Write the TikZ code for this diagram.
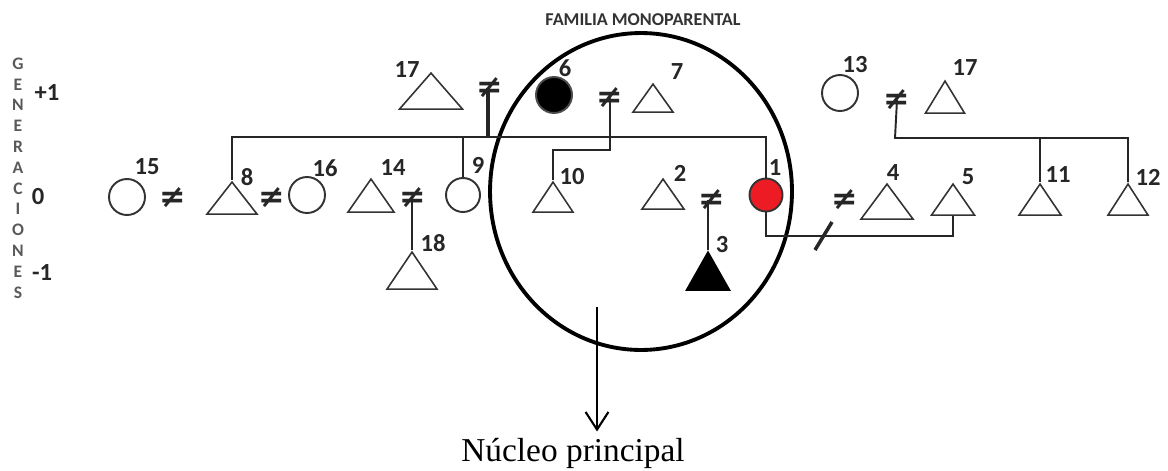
\documentclass[tikz,border=0pt]{standalone}
\usepackage{fontspec}
\setmainfont{Carlito}
\newfontfamily\serifnote{Liberation Serif}
\newfontfamily\symfont{DejaVu Sans}
\usepackage{tikz}
\usetikzlibrary{shapes.geometric, arrows.meta, positioning, calc}
\definecolor{paintred}{HTML}{ED1C24}
\tikzset{
  male/.style={isosceles triangle, isosceles triangle stretches, shape border rotate=90, anchor=apex, inner sep=0pt, draw=black!80, line width=0.9pt},
  female/.style={circle, minimum size=0.72cm, inner sep=0pt, draw=black!80, line width=1.1pt},
  num/.style={inner sep=0pt, font=\fontsize{14}{14}\selectfont\bfseries, text=black!85},
  neq/.style={inner sep=0pt, font=\symfont\fontsize{18}{18}\selectfont\bfseries, text=black!85},
  link/.style={line width=1.1pt, draw=black!85}
}

\begin{document}
\begin{tikzpicture}[x=0.02cm, y=-0.02cm]
\useasboundingbox (0,0) rectangle (1168,470);

% Generations
\node[inner sep=0pt, align=center, text=black!65, font=\fontsize{10}{11.85}\selectfont\bfseries] (gen) at (18,178) {G\\E\\N\\E\\R\\A\\C\\I\\O\\N\\E\\S};
\node[num] (gplus) at (47,93) {+1};
\node[num] (gzero) at (38,197) {0};
\node[num] (gminus) at (42,273) {-1};

% Nucleo principal
\node[ellipse, draw=black, line width=2.2pt, minimum width=6.04cm, minimum height=6.34cm] (mono) at (641,191.5) {};
\node[inner sep=0pt, text=black!80, font=\fontsize{10.3}{10.3}\selectfont\bfseries] (monotitle) at (643,20) {FAMILIA MONOPARENTAL};

% Generation +1
\node[male, minimum width=1.26cm, minimum height=0.72cm] (t17a) at (431,71) {};
\node[female, fill=black, draw=black!70] (c6) at (554,95) {};
\node[male, minimum width=0.8cm, minimum height=0.56cm] (t7) at (653,82) {};
\node[female] (c13) at (840,93) {};
\node[male, minimum width=0.78cm, minimum height=0.64cm] (t17b) at (945,79) {};
\node[neq] (ne1) at (490,88) {≠};
\node[neq] (ne2) at (610,98) {≠};
\node[neq] (ne3) at (897,100) {≠};

% Generation 0
\node[female] (c15) at (127,197) {};
\node[male, minimum width=1.0cm, minimum height=0.64cm] (t8) at (232,180) {};
\node[female] (c16) at (307,195) {};
\node[male, minimum width=0.92cm, minimum height=0.66cm] (t14) at (371,177) {};
\node[female, minimum size=0.68cm] (c9) at (463,195) {};
\node[male, minimum width=0.8cm, minimum height=0.6cm] (t10) at (553,180) {};
\node[male, minimum width=0.84cm, minimum height=0.6cm] (t2) at (663,177) {};
\node[female, minimum size=0.66cm, fill=paintred] (c1) at (766,195) {};
\node[male, minimum width=1.04cm, minimum height=0.7cm] (t4) at (887,182) {};
\node[male, minimum width=0.86cm, minimum height=0.62cm] (t5) at (953,182) {};
\node[male, minimum width=0.84cm, minimum height=0.62cm] (t11) at (1040,182) {};
\node[male, minimum width=0.8cm, minimum height=0.62cm] (t12) at (1128,182) {};
\node[neq] (ne4) at (173,198) {≠};
\node[neq] (ne5) at (272,198) {≠};
\node[neq] (ne6) at (413,198) {≠};
\node[neq] (ne7) at (712,200) {≠};
\node[neq] (ne8) at (845,200) {≠};

% Generation -1
\node[male, minimum width=1.0cm, minimum height=0.74cm] (t18) at (412,250) {};
\node[male, fill=black, draw=black, minimum width=0.86cm, minimum height=0.76cm] (t3) at (708,250) {};

% Numbers
\node[num] (l15) at (147,167) {15};
\node[num] (l8) at (247,177) {8};
\node[num] (l16) at (325,168) {16};
\node[num] (l14) at (393,168) {14};
\node[num] (l18) at (433,243) {18};
\node[num] (l9) at (478,165) {9};
\node[num] (l17a) at (407,70) {17};
\node[num] (l6) at (565,68) {6};
\node[num] (l7) at (677,72) {7};
\node[num] (l10) at (572,177) {10};
\node[num] (l2) at (680,173) {2};
\node[num] (l3) at (722,245) {3};
\node[num] (l1) at (775,168) {1};
\node[num] (l13) at (855,65) {13};
\node[num] (l17b) at (965,68) {17};
\node[num] (l4) at (893,173) {4};
\node[num] (l5) at (968,177) {5};
\node[num] (l11) at (1058,175) {11};
\node[num] (l12) at (1148,177) {12};

% Lines
\coordinate (sib) at (488,137);
\coordinate (sib2) at (895,138);
\draw[link] (t8.apex) -- (t8.apex |- sib) -- (c1.north |- sib) -- (c1.north);
\draw[link] (c9.north) -- (c9.north |- sib);
\draw[link, line width=2pt] (ne1.center -| sib) -- (sib);
\draw[link] (ne2.center) |- ($(t10.apex)+(0,-30)$) -- (t10.apex);
\draw[link] (t18.apex |- ne6.center) -- (t18.apex);
\draw[link] (t3.apex |- ne7.center) -- (t3.apex);
\draw[link] (c1.south) |- ($(t5.lower side)+(0,20)$) -- (t5.lower side);
\draw[link] (ne3.center) -- (sib2) -| (t12.apex);
\draw[link] (t11.apex) -- (t11.apex |- sib2);
\coordinate (cut) at (823,236);
\draw[link, line width=2pt] (cut) +(-8,14) -- +(9,-14);

% Arrow
\node[inner sep=0pt, font=\serifnote\fontsize{19}{19}\selectfont] (nucleo) at (573,453) {Núcleo principal};
\coordinate (arrtop) at (597,307);
\draw[line width=1.2pt, -{Straight Barb[length=10pt, width=13pt]}] (arrtop) -- ($(arrtop |- nucleo.north)+(0,-6)$);
\end{tikzpicture}
\end{document}
